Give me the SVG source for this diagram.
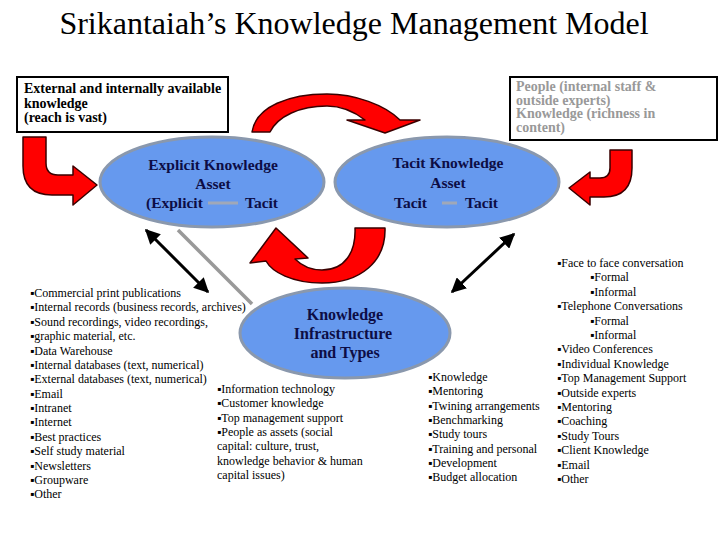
<svg xmlns="http://www.w3.org/2000/svg" width="720" height="540" viewBox="0 0 720 540" font-family="'Liberation Serif', 'Times New Roman', 'DejaVu Serif', serif">
<style>
text{font-family:"Liberation Serif","Times New Roman","DejaVu Serif",serif;}
.box{fill:#fff;stroke:#000;stroke-width:2;}
.bt{font-size:14px;font-weight:bold;fill:#000;}
.gt{font-size:14px;font-weight:bold;fill:#999;}
.ell{fill:#6699ee;stroke:#8a98ad;stroke-width:3;}
.et{font-size:15.5px;font-weight:bold;fill:#0d0d45;}
.it{font-size:16px;font-weight:bold;fill:#0d0d45;}
.li{font-size:12px;fill:#000;}
.red{fill:#ff0000;stroke:#3a0000;stroke-width:1.5;stroke-linejoin:round;}
.gl{stroke:#a0a8b8;stroke-width:3;}
</style>
<defs>
<marker id="ah" viewBox="0 0 10 10" refX="9" refY="5" markerWidth="5" markerHeight="5" orient="auto-start-reverse">
<path d="M0,0 L10,5 L0,10 z" fill="#000"/>
</marker>
</defs>
<rect width="720" height="540" fill="#fff"/>
<text x="354" y="34" text-anchor="middle" font-size="32" fill="#000">Srikantaiah’s Knowledge Management Model</text>

<g id="connectors">
<path class="red" d="M252,132 C256,106 290,94 327,94 C355,94 385,105 400,120 L420,120 L385,133 L347,120 L365,120 C352,110 340,106 327,106 C300,106 278,116 270,132 Z"/>
<path class="red" d="M385,228 C386,262 360,283 322,283 C292,283 272,272 266,261 L250,263 L276,228 L308,258 L295,259 C302,266 312,270 322,270 C345,270 356,252 355,228 Z"/>
<path class="red" d="M23,137 L46,137 L46,163 Q46,175 58,175 L73,175 L73,166 L97,185 L73,205 L73,195 L52,195 Q23,195 23,166 Z"/>
<path class="red" d="M610,150 L632,150 L632,168 Q632,197 604,197 L590,197 L590,205 L569,188 L590,172 L590,178 L600,178 Q610,178 610,168 Z"/>
<line x1="146" y1="230" x2="208" y2="292" stroke="#000" stroke-width="3" marker-start="url(#ah)" marker-end="url(#ah)"/>
<line x1="178" y1="230" x2="252" y2="304" stroke="#999" stroke-width="3.5"/>
<line x1="514" y1="234" x2="452" y2="292" stroke="#000" stroke-width="3" marker-start="url(#ah)" marker-end="url(#ah)"/>
</g>

<g id="external">
<rect class="box" x="17" y="77" width="211" height="55"/>
<text class="bt" x="24" y="93">External and internally available</text>
<text class="bt" x="24" y="107.5">knowledge</text>
<text class="bt" x="24" y="122">(reach is vast)</text>
</g>

<g id="people">
<rect class="box" x="510" y="77" width="207" height="63"/>
<text class="gt" x="516" y="91">People (internal staff &amp;</text>
<text class="gt" x="516" y="104.5">outside experts)</text>
<text class="gt" x="516" y="118">Knowledge (richness in</text>
<text class="gt" x="516" y="131.5">content)</text>
</g>

<g id="explicit">
<ellipse class="ell" cx="212" cy="182" rx="112" ry="45"/>
<text class="et" x="213" y="170" text-anchor="middle">Explicit Knowledge</text>
<text class="et" x="213" y="189" text-anchor="middle">Asset</text>
<text class="et" x="146" y="208">(Explicit</text>
<line class="gl" x1="208" y1="203" x2="238" y2="203"/>
<text class="et" x="245" y="208">Tacit</text>
</g>

<g id="tacit">
<ellipse class="ell" cx="447" cy="182" rx="112" ry="45"/>
<text class="et" x="448" y="168" text-anchor="middle">Tacit Knowledge</text>
<text class="et" x="448" y="188" text-anchor="middle">Asset</text>
<text class="et" x="394" y="208">Tacit</text>
<line class="gl" x1="442" y1="203" x2="457" y2="203"/>
<text class="et" x="465" y="208">Tacit</text>
</g>

<g id="infrastructure">
<ellipse class="ell" cx="345" cy="333" rx="105" ry="45"/>
<text class="it" x="345" y="320" text-anchor="middle">Knowledge</text>
<text class="it" x="343" y="339" text-anchor="middle">Infrastructure</text>
<text class="it" x="345" y="358" text-anchor="middle">and Types</text>
</g>

<g id="list-explicit">
<text class="li" x="30" y="297">▪Commercial print publications</text>
<text class="li" x="30" y="311.4">▪Internal records (business records, archives)</text>
<text class="li" x="30" y="325.8">▪Sound recordings, video recordings,</text>
<text class="li" x="30" y="340.1">▪graphic material, etc.</text>
<text class="li" x="30" y="354.5">▪Data Warehouse</text>
<text class="li" x="30" y="368.9">▪Internal databases (text, numerical)</text>
<text class="li" x="30" y="383.3">▪External databases (text, numerical)</text>
<text class="li" x="30" y="397.6">▪Email</text>
<text class="li" x="30" y="412">▪Intranet</text>
<text class="li" x="30" y="426.4">▪Internet</text>
<text class="li" x="30" y="440.8">▪Best practices</text>
<text class="li" x="30" y="455.1">▪Self study material</text>
<text class="li" x="30" y="469.5">▪Newsletters</text>
<text class="li" x="30" y="483.9">▪Groupware</text>
<text class="li" x="30" y="498.3">▪Other</text>
</g>

<g id="list-infra">
<text class="li" x="217" y="393">▪Information technology</text>
<text class="li" x="217" y="407.3">▪Customer knowledge</text>
<text class="li" x="217" y="421.6">▪Top management support</text>
<text class="li" x="217" y="435.9">▪People as assets (social</text>
<text class="li" x="217" y="450.2">capital:  culture, trust,</text>
<text class="li" x="217" y="464.5">knowledge behavior &amp; human</text>
<text class="li" x="217" y="478.8">capital issues)</text>
</g>

<g id="list-middle">
<text class="li" x="428" y="381">▪Knowledge</text>
<text class="li" x="428" y="395.3">▪Mentoring</text>
<text class="li" x="428" y="409.6">▪Twining arrangements</text>
<text class="li" x="428" y="423.9">▪Benchmarking</text>
<text class="li" x="428" y="438.2">▪Study tours</text>
<text class="li" x="428" y="452.5">▪Training and personal</text>
<text class="li" x="428" y="466.8">▪Development</text>
<text class="li" x="428" y="481.1">▪Budget allocation</text>
</g>

<g id="list-tacit">
<text class="li" x="557" y="267">▪Face to face conversation</text>
<text class="li" x="590" y="281.4">▪Formal</text>
<text class="li" x="590" y="295.8">▪Informal</text>
<text class="li" x="557" y="310.2">▪Telephone Conversations</text>
<text class="li" x="590" y="324.6">▪Formal</text>
<text class="li" x="590" y="339">▪Informal</text>
<text class="li" x="557" y="353.4">▪Video Conferences</text>
<text class="li" x="557" y="367.8">▪Individual Knowledge</text>
<text class="li" x="557" y="382.2">▪Top Management Support</text>
<text class="li" x="557" y="396.6">▪Outside experts</text>
<text class="li" x="557" y="411">▪Mentoring</text>
<text class="li" x="557" y="425.4">▪Coaching</text>
<text class="li" x="557" y="439.8">▪Study Tours</text>
<text class="li" x="557" y="454.2">▪Client Knowledge</text>
<text class="li" x="557" y="468.6">▪Email</text>
<text class="li" x="557" y="483">▪Other</text>
</g>
</svg>
